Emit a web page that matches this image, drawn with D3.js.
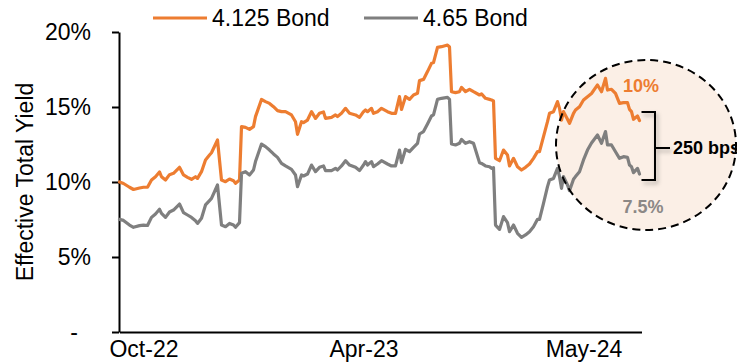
<!DOCTYPE html>
<html>
<head>
<meta charset="utf-8">
<script src="https://cdn.jsdelivr.net/npm/d3@7/dist/d3.min.js"></script>
<style>
  html, body { margin: 0; padding: 0; background: #fff; }
  svg { display: block; }
  text { font-family: "Liberation Sans", Arial, sans-serif; }
</style>
</head>
<body>
<svg id="chart" width="737" height="364"></svg>
<script>
// Observation number (trading-day index) for each reading
const days = [
  0,2,5,7,10,12,14,16,18,20,21,23,25,27,30,32,34,36,38,39,41,43,45,46,49,51,53,55,57,58,60,61,
  63,65,67,68,71,73,75,77,79,81,83,86,88,89,91,92,94,96,98,100,102,103,106,108,109,111,113,115,118,120,122,123,
  124,126,127,129,131,134,136,138,140,141,143,145,147,149,150,152,154,156,157,159,161,164,165,166,168,170,171,173,175,177,180,181,183,185,186,
  187,188,190,192,194,195,197,199,201,203,205,207,209,210,212,214,215,217,219,220,221,222,224,225,227,228,230,232,234,236,239,241,243,244,246,248,250,252,254,255,256,257,259,260
];

// Effective total yield, %, 4.125 bond
const bond4125 = [
  10.0,9.9,9.65,9.5,9.6,9.65,9.65,10.13,10.35,10.67,10.35,10.13,10.49,10.58,10.98,10.47,10.31,10.18,10.35,10.24,10.69,11.47,11.8,11.95,12.8,10.13,10.02,10.2,10.09,9.91,10.13,13.69,
  13.64,13.51,13.69,14.36,15.5,15.36,15.24,15.02,14.76,14.69,14.69,14.47,14.02,13.18,14.02,13.96,14.13,14.69,14.24,14.58,14.67,14.24,14.31,14.47,14.36,14.58,14.91,14.58,14.47,14.31,14.69,14.8,
  14.69,14.91,14.58,14.69,14.91,14.69,14.58,14.58,15.69,14.84,15.69,15.51,15.8,15.91,16.76,16.84,17.36,17.91,17.96,18.98,19.02,19.13,19.0,16.02,15.96,16.02,16.31,16.02,16.18,16.02,15.8,15.87,15.58,15.51,15.47,
  15.4,11.58,11.42,12.13,11.8,11.07,11.58,11.02,10.8,10.98,11.2,11.58,12.02,12.02,13.02,14.02,14.58,14.69,15.36,14.91,14.13,14.69,14.18,13.91,14.58,14.8,15.02,15.47,15.69,15.9,16.47,16.02,16.91,16.13,16.18,15.91,15.24,15.29,15.29,14.84,14.69,14.18,14.4,14.09
];

// Effective total yield, %, 4.65 bond
const bond465 = [
  7.51,7.44,7.13,6.98,7.09,7.13,7.1,7.64,7.87,8.18,7.91,7.64,8.0,8.13,8.53,7.96,7.8,7.64,7.42,7.24,7.58,8.47,8.76,8.91,9.8,7.13,7.02,7.24,7.13,6.98,7.29,10.58,
  10.69,10.47,10.8,11.36,12.53,12.36,12.13,11.87,11.64,11.24,11.07,10.84,10.47,9.69,10.47,10.4,10.53,11.13,10.69,10.98,11.07,10.76,10.76,10.91,10.8,11.07,11.42,11.13,10.98,10.76,11.13,11.36,
  11.13,11.36,11.02,11.2,11.42,11.2,11.07,11.07,12.13,11.29,12.18,12.02,12.31,12.58,13.2,13.36,13.87,14.4,14.47,15.51,15.58,15.64,15.51,12.53,12.47,12.58,12.84,12.58,12.69,12.58,11.29,11.24,11.07,11.02,10.91,
  10.95,7.13,6.84,7.69,7.29,6.69,7.13,6.58,6.31,6.47,6.69,7.02,7.51,7.51,8.58,9.69,10.13,10.24,10.91,10.36,9.58,10.36,9.8,9.42,10.18,10.36,10.69,11.47,12.13,12.6,13.13,12.58,13.36,12.47,12.47,12.02,11.58,11.69,11.64,11.13,11.02,10.62,10.91,10.53
];

const seriesNames = ["4.125 Bond", "4.65 Bond"];
const seriesColors = ["#ED7D31", "#7F7F7F"];

const xTickDays = [12, 122, 232];
const xTickLabels = ["Oct-22", "Apr-23", "May-24"];
const yTicks = [0, 5, 10, 15, 20];

const yAxisTitle = "Effective Total Yield";
const calloutHigh = "10%";
const calloutLow = "7.5%";
const spreadLabel = "250 bps";

const svg = d3.select("#chart");
const FONT = 23;

const x = d3.scaleLinear().domain([0, 261]).range([119.5, 641.5]);
const y = d3.scaleLinear().domain([0, 20]).range([332, 32]);

const defs = svg.append("defs");
const shadow = defs.append("filter").attr("id", "soft").attr("x", "-50%").attr("y", "-50%").attr("width", "200%").attr("height", "200%");
shadow.append("feDropShadow").attr("dx", 2).attr("dy", 3).attr("stdDeviation", 2)
  .attr("flood-color", "#000").attr("flood-opacity", 0.3);

// highlight ellipse fill (under the lines)
const ell = { cx: 646, cy: 145, rx: 90, ry: 85 };
svg.append("ellipse")
  .attr("cx", ell.cx).attr("cy", ell.cy).attr("rx", ell.rx).attr("ry", ell.ry)
  .attr("fill", "#FBEFE6");

// y axis
const yAxis = svg.append("g")
  .attr("transform", `translate(${x.range()[0] - 0.5},0)`)
  .call(d3.axisLeft(y).tickValues(yTicks).tickSizeInner(7).tickSizeOuter(0).tickPadding(21)
    .tickFormat(d => d === 0 ? "-" : d + "%"));
yAxis.select(".domain").attr("stroke", "#000").attr("stroke-width", 2);
yAxis.selectAll(".tick line").attr("stroke", "#000").attr("stroke-width", 2);
yAxis.selectAll(".tick text")
  .attr("font-size", FONT).attr("fill", "#000")
  .attr("font-family", "Liberation Sans, Arial, sans-serif")
  .attr("dx", d => d === 0 ? -13 : 0);

// x axis
const xAxis = svg.append("g")
  .attr("transform", `translate(0,${y(0)})`)
  .call(d3.axisBottom(x).tickValues(xTickDays).tickSize(0).tickPadding(9)
    .tickFormat((d, i) => xTickLabels[i]));
xAxis.select(".domain").attr("stroke", "#000").attr("stroke-width", 2);
xAxis.selectAll(".tick text")
  .attr("font-size", FONT).attr("fill", "#000")
  .attr("font-family", "Liberation Sans, Arial, sans-serif");

// y axis title
svg.append("text")
  .attr("transform", "translate(33,182) rotate(-90)")
  .attr("text-anchor", "middle")
  .attr("font-size", FONT)
  .text(yAxisTitle);

// series lines
const line = d3.line().x(d => x(d[0])).y(d => y(d[1])).curve(d3.curveLinear);
[bond4125, bond465].forEach((vals, i) => {
  svg.append("path")
    .datum(days.map((d, j) => [d, vals[j]]))
    .attr("fill", "none")
    .attr("stroke", seriesColors[i])
    .attr("stroke-width", 3.2)
    .attr("stroke-linejoin", "round")
    .attr("stroke-linecap", "round")
    .attr("d", line);
});

// dashed outline of the highlight
svg.append("ellipse")
  .attr("cx", ell.cx).attr("cy", ell.cy).attr("rx", ell.rx).attr("ry", ell.ry)
  .attr("fill", "none").attr("stroke", "#000").attr("stroke-width", 2)
  .attr("stroke-dasharray", "8,5");

// callout values
svg.append("text").attr("x", 641).attr("y", 86).attr("text-anchor", "middle")
  .attr("dominant-baseline", "central").attr("font-size", 18).attr("font-weight", "bold")
  .attr("fill", "#ED7D31").text(calloutHigh);
svg.append("text").attr("x", 643).attr("y", 207).attr("text-anchor", "middle")
  .attr("dominant-baseline", "central").attr("font-size", 18).attr("font-weight", "bold")
  .attr("fill", "#8C8886").text(calloutLow);

// spread bracket
const lastX = x(days[days.length - 1]);
svg.append("path")
  .attr("d", `M${lastX + 2},112 H655 V180 H${lastX + 2} M655,148 H670`)
  .attr("fill", "none").attr("stroke", "#000").attr("stroke-width", 2)
  .attr("filter", "url(#soft)");
svg.append("text").attr("x", 673).attr("y", 148)
  .attr("dominant-baseline", "central").attr("font-size", 18).attr("font-weight", "bold")
  .attr("fill", "#000").text(spreadLabel);

// legend
const legendItems = [
  { x1: 153, x2: 207, tx: 212 },
  { x1: 364, x2: 418, tx: 423 }
];
legendItems.forEach((p, i) => {
  svg.append("line").attr("x1", p.x1).attr("x2", p.x2).attr("y1", 18).attr("y2", 18)
    .attr("stroke", seriesColors[i]).attr("stroke-width", 3.2);
  svg.append("text").attr("x", p.tx).attr("y", 18).attr("dominant-baseline", "central")
    .attr("font-size", FONT).attr("fill", "#000").text(seriesNames[i]);
});
</script>
</body>
</html>
